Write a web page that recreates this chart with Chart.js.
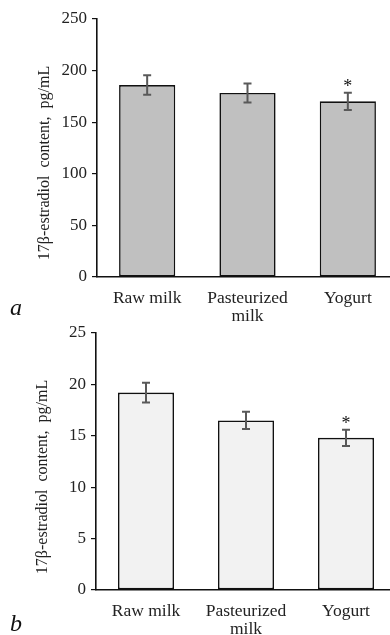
<!DOCTYPE html>
<html>
<head>
<meta charset="utf-8">
<script src="https://cdn.jsdelivr.net/npm/chart.js@4.4.1/dist/chart.umd.min.js"></script>
<style>
  html, body { margin: 0; padding: 0; background: #fff; overflow: hidden; width: 390px; height: 635px; }
  canvas { position: absolute; left: 0; }
  #chartA { top: 0; }
  #chartB { top: 310px; }
</style>
</head>
<body>
<canvas id="chartA" width="400" height="335"></canvas>
<canvas id="chartB" width="400" height="325"></canvas>
<script>
// Product categories (multi-line where the label wraps)
const categories = [['Raw milk'], ['Pasteurized', 'milk'], ['Yogurt']];

// Panel a: 17β-estradiol content, pg/mL (mean ± error)
const contentA = [186.0, 178.3, 170.2];
const errorA   = [9.4, 9.2, 8.4];

// Panel b: 17β-estradiol content, pg/mL (mean ± error)
const contentB = [19.2, 16.5, 14.8];
const errorB   = [0.95, 0.83, 0.8];

// Significance marks above bars
const significant = [false, false, true];

// Y axis ranges and tick steps
const yMaxA = 250, yStepA = 50;
const yMaxB = 25,  yStepB = 5;

const yTitle = '17β-estradiol  content,  pg/mL';
const SERIF = '"Liberation Serif", "Times New Roman", serif';

const errorBarPlugin = {
  id: 'errorBars',
  afterDatasetsDraw(chart, args, opts) {
    const ctx = chart.ctx;
    const meta = chart.getDatasetMeta(0);
    const y = chart.scales.y;
    ctx.save();
    ctx.strokeStyle = '#595959';
    ctx.lineWidth = 2;
    meta.data.forEach((bar, i) => {
      const v = opts.values[i], e = opts.errors[i];
      const x = bar.x;
      const yTop = y.getPixelForValue(v + e);
      const yBot = y.getPixelForValue(v - e);
      ctx.beginPath();
      ctx.moveTo(x, yTop); ctx.lineTo(x, yBot);
      ctx.moveTo(x - 4, yTop); ctx.lineTo(x + 4, yTop);
      ctx.moveTo(x - 4, yBot); ctx.lineTo(x + 4, yBot);
      ctx.stroke();
      if (opts.marks[i]) {
        ctx.fillStyle = '#111';
        ctx.font = '18px ' + SERIF;
        ctx.textAlign = 'center';
        ctx.textBaseline = 'alphabetic';
        ctx.fillText('*', x, yTop - 1);
      }
    });
    ctx.restore();
  },
  afterDraw(chart, args, opts) {
    const ctx = chart.ctx;
    ctx.save();
    // rotated y-axis title
    ctx.translate(opts.titleX, opts.titleY);
    ctx.rotate(-Math.PI / 2);
    ctx.fillStyle = '#222';
    ctx.font = '16px ' + SERIF;
    ctx.textAlign = 'center';
    ctx.textBaseline = 'middle';
    ctx.fillText(yTitle, 0, 0);
    ctx.restore();
    // panel letter
    ctx.save();
    ctx.fillStyle = '#111';
    ctx.font = 'italic 24px ' + SERIF;
    ctx.textAlign = 'left';
    ctx.textBaseline = 'alphabetic';
    ctx.fillText(opts.letter, opts.letterX, opts.letterY);
    ctx.restore();
  }
};

function makeChart(id, values, errors, yMax, yStep, fill, cfg) {
  return new Chart(document.getElementById(id), {
    type: 'bar',
    data: {
      labels: categories,
      datasets: [{
        data: values,
        backgroundColor: fill,
        borderColor: '#111',
        borderWidth: 1.6,
        borderSkipped: false,
        barPercentage: 0.56,
        categoryPercentage: 1.0
      }]
    },
    options: {
      responsive: false,
      devicePixelRatio: 1,
      animation: false,
      layout: { padding: { left: 0, right: cfg.padRight, top: cfg.top, bottom: 0 } },
      plugins: {
        legend: { display: false },
        tooltip: { enabled: false },
        errorBars: {
          values: values, errors: errors, marks: significant,
          titleX: cfg.titleX, titleY: cfg.titleY,
          letter: cfg.letter, letterX: cfg.letterX, letterY: cfg.letterY
        }
      },
      scales: {
        x: {
          grid: { display: false, drawTicks: false },
          border: { display: true, color: '#111', width: 1.6 },
          ticks: {
            color: '#222',
            font: { family: SERIF, size: 17.5, lineHeight: 1.05 },
            padding: 12,
            maxRotation: 0,
            autoSkip: false
          },
          afterFit(scale) { scale.height = cfg.xHeight; }
        },
        y: {
          min: 0,
          max: yMax,
          grid: { display: true, drawOnChartArea: false, drawTicks: true, tickLength: 5, color: '#111', lineWidth: 1.2 },
          border: { display: true, color: '#111', width: 1.6 },
          ticks: {
            stepSize: yStep,
            color: '#222',
            font: { family: SERIF, size: 17 },
            padding: 5
          },
          afterFit(scale) { scale.width = cfg.yWidth; }
        }
      }
    },
    plugins: [errorBarPlugin]
  });
}

makeChart('chartA', contentA, errorA, yMaxA, yStepA, '#c0c0c0', {
  top: 19, padRight: 2, xHeight: 58, yWidth: 97,
  titleX: 45, titleY: 163, letter: 'a', letterX: 10, letterY: 315
});

makeChart('chartB', contentB, errorB, yMaxB, yStepB, '#f2f2f2', {
  top: 23, padRight: 4, xHeight: 45, yWidth: 96,
  titleX: 43, titleY: 167, letter: 'b', letterX: 10, letterY: 321
});
</script>
</body>
</html>
